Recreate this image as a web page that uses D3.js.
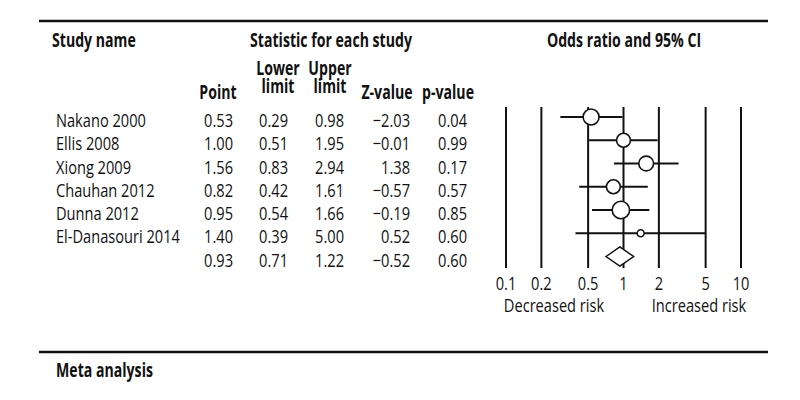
<!DOCTYPE html>
<html>
<head>
<meta charset="utf-8">
<script src="https://cdn.jsdelivr.net/npm/d3@7"></script>
<style>
  html, body { margin: 0; padding: 0; background: #fff; }
  svg text { font-family: "Open Sans", "Noto Sans", sans-serif; fill: #111; }
</style>
</head>
<body>
<svg id="chart" width="800" height="400"></svg>
<script>
// ---------- data ----------
const studies = ["Nakano 2000", "Ellis 2008", "Xiong 2009", "Chauhan 2012", "Dunna 2012", "El-Danasouri 2014", ""];
const points  = [0.53, 1.00, 1.56, 0.82, 0.95, 1.40, 0.93];
const lowers  = [0.29, 0.51, 0.83, 0.42, 0.54, 0.39, 0.71];
const uppers  = [0.98, 1.95, 2.94, 1.61, 1.66, 5.00, 1.22];
const zvalues = [-2.03, -0.01, 1.38, -0.57, -0.19, 0.52, -0.52];
const pvalues = [0.04, 0.99, 0.17, 0.57, 0.85, 0.60, 0.60];
const weights = [21, 16, 18, 16, 25, 4];       // relative study weights (marker size)
const axisTicks = [0.1, 0.2, 0.5, 1, 2, 5, 10];
const axisTickLabels = ["0.1", "0.2", "0.5", "1", "2", "5", "10"];

// ---------- setup ----------
const svg = d3.select("#chart");
const fmt = d3.format(".2f");
const n = studies.length;

const x = d3.scaleLog().domain([0.1, 10]).range([506, 741]);
const y = d3.scalePoint().domain(d3.range(n)).range([117, 256.5]);
const r = d3.scaleSqrt().domain([0, 25]).range([0, 8.7]);

const dataFont = 18.5;
const headFont = 19.5;

// condensed look: measure a reference string and compress horizontally
function measure(str, size, weight) {
  const t = svg.append("text").attr("font-size", size).attr("font-weight", weight).text(str);
  const w = t.node().getComputedTextLength();
  t.remove();
  return w;
}
const sxData = 90 / measure("Nakano 2000", dataFont, "normal");
const sxHead = 162 / measure("Statistic for each study", headFont, "bold");

function label(parent, str, xx, yy, opt) {
  opt = opt || {};
  const bold = !!opt.bold;
  const t = parent.append("text")
    .attr("transform", `translate(${xx},${yy}) scale(${bold ? sxHead : sxData},1)`)
    .attr("text-anchor", opt.anchor || "start")
    .attr("font-size", bold ? headFont : dataFont)
    .attr("font-weight", bold ? "bold" : "normal");
  if (Array.isArray(str)) {
    str.forEach((line, k) => t.append("tspan").attr("x", 0).attr("dy", k === 0 ? 0 : opt.lh).text(line));
  } else {
    t.text(str);
  }
  return t;
}

// rules
svg.append("line").attr("x1", 39).attr("x2", 768).attr("y1", 21).attr("y2", 21)
  .attr("stroke", "#111").attr("stroke-width", 2.5);
svg.append("line").attr("x1", 39).attr("x2", 768).attr("y1", 352).attr("y2", 352)
  .attr("stroke", "#111").attr("stroke-width", 2.5);

// headers
const H = { bold: true, anchor: "middle" };
label(svg, "Study name", 52, 47, { bold: true });
label(svg, "Statistic for each study", 331, 47, H);
label(svg, "Odds ratio and 95% CI", 624, 47, H);
label(svg, ["Lower", "limit"], 278, 75, { bold: true, anchor: "middle", lh: 17.5 });
label(svg, ["Upper", "limit"], 330, 75, { bold: true, anchor: "middle", lh: 17.5 });
label(svg, "Point", 218, 99, H);
label(svg, "Z-value", 387, 99, H);
label(svg, "p-value", 448, 99, H);
label(svg, "Meta analysis", 56, 377, { bold: true });

// table values
const cols = [
  { vals: points,  x: 233 },
  { vals: lowers,  x: 288 },
  { vals: uppers,  x: 344 },
  { vals: zvalues, x: 410 },
  { vals: pvalues, x: 467 }
];
const rows = d3.range(n);
const tbl = svg.append("g");
rows.forEach(i => {
  if (studies[i]) label(tbl, studies[i], 56, y(i) + 10);
  cols.forEach(c => label(tbl, fmt(c.vals[i]), c.x, y(i) + 10, { anchor: "end" }));
});

// vertical reference lines
svg.append("g").selectAll("line").data(axisTicks).join("line")
  .attr("x1", d => x(d)).attr("x2", d => x(d))
  .attr("y1", 107).attr("y2", 268)
  .attr("stroke", "#111").attr("stroke-width", 2);

// tick labels
const ax = svg.append("g");
axisTicks.forEach((d, i) => label(ax, axisTickLabels[i], x(d), 290, { anchor: "middle" }));
label(ax, "Decreased risk", 554, 312, { anchor: "middle" });
label(ax, "Increased risk", 699, 312, { anchor: "middle" });

// CI lines for studies
const studyRows = d3.range(n - 1);
svg.append("g").selectAll("line").data(studyRows).join("line")
  .attr("x1", i => x(lowers[i])).attr("x2", i => x(uppers[i]))
  .attr("y1", i => y(i)).attr("y2", i => y(i))
  .attr("stroke", "#111").attr("stroke-width", 2);

// point markers
svg.append("g").selectAll("circle").data(studyRows).join("circle")
  .attr("cx", i => x(points[i])).attr("cy", i => y(i))
  .attr("r", i => r(weights[i]))
  .attr("fill", "#fff").attr("stroke", "#111").attr("stroke-width", 1.6);

// summary diamond
const s = n - 1;
const dh = 9.5;
const diamond = [
  [x(lowers[s]), y(s)], [x(points[s]), y(s) - dh],
  [x(uppers[s]), y(s)], [x(points[s]), y(s) + dh]
];
svg.append("path").attr("d", d3.line()(diamond) + "Z")
  .attr("fill", "#fff").attr("stroke", "#111").attr("stroke-width", 1.5);
</script>
</body>
</html>
